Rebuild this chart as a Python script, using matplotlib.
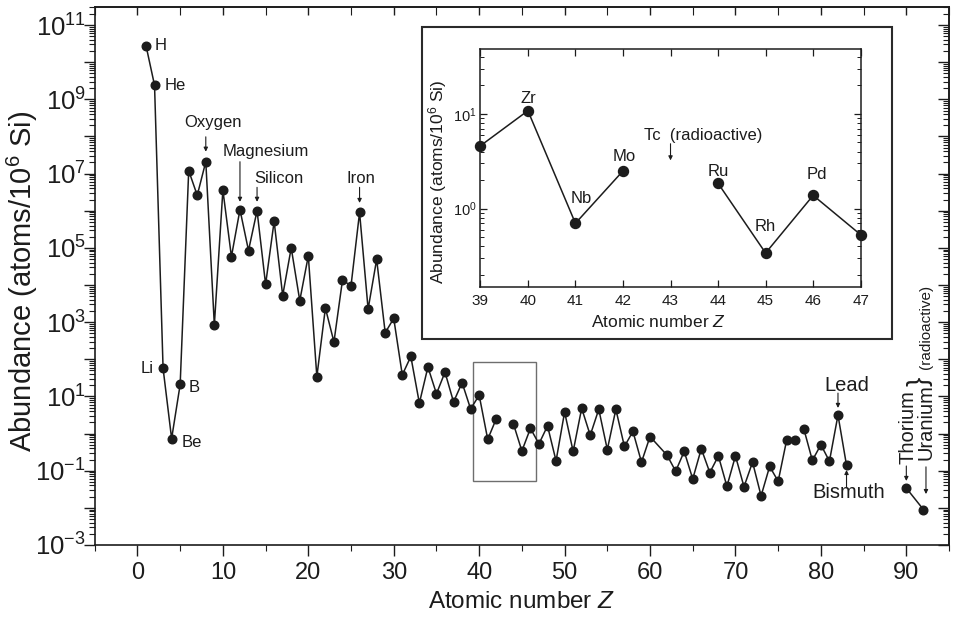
import numpy as np
import matplotlib
matplotlib.use("Agg")
import matplotlib.pyplot as plt
from matplotlib.patches import Rectangle
from matplotlib.ticker import LogLocator, NullFormatter, FixedLocator

plt.rcParams["font.family"] = ["Liberation Sans", "DejaVu Sans"]
plt.rcParams["mathtext.fontset"] = "custom"
plt.rcParams["mathtext.rm"] = "Liberation Sans"
plt.rcParams["mathtext.it"] = "Liberation Sans:italic"
plt.rcParams["mathtext.default"] = "regular"

INK = "#1c1c1c"

# atomic number Z and solar-system abundance (atoms per 10^6 Si); Tc, Pm, Po-Ac, Pa absent
Z = [1, 2, 3, 4, 5, 6, 7, 8, 9, 10,
     11, 12, 13, 14, 15, 16, 17, 18, 19, 20,
     21, 22, 23, 24, 25, 26, 27, 28, 29, 30,
     31, 32, 33, 34, 35, 36, 37, 38, 39, 40,
     41, 42, 44, 45, 46, 47, 48, 49, 50,
     51, 52, 53, 54, 55, 56, 57, 58, 59, 60,
     62, 63, 64, 65, 66, 67, 68, 69, 70,
     71, 72, 73, 74, 75, 76, 77, 78, 79, 80,
     81, 82, 83, 90, 92]
ABUND = [2.8e10, 2.4e9, 57, 0.73, 21, 1.2e7, 2.6e6, 2.1e7, 840, 3.6e6,
         5.8e4, 1.07e6, 8.5e4, 1.0e6, 1.04e4, 5.2e5, 5.2e3, 1.0e5, 3.8e3, 6.1e4,
         34, 2.4e3, 293, 1.35e4, 9.6e3, 9.0e5, 2.25e3, 4.9e4, 520, 1.26e3,
         38, 119, 6.6, 62, 11.8, 45, 7.1, 23.5, 4.6, 10.8,
         0.70, 2.5, 1.85, 0.34, 1.38, 0.53, 1.61, 0.184, 3.8,
         0.33, 4.8, 0.90, 4.5, 0.37, 4.5, 0.45, 1.14, 0.17, 0.83,
         0.26, 0.097, 0.33, 0.060, 0.39, 0.089, 0.25, 0.038, 0.25,
         0.037, 0.17, 0.021, 0.13, 0.052, 0.68, 0.66, 1.34, 0.19, 0.5,
         0.18, 3.15, 0.14, 0.034, 0.009]
BREAK_AFTER = [42, 77, 83]  # the curve is not joined past these Z
INSET_RANGE = (39, 47)


def segments(zs, vals, breaks):
    zs, vals = np.asarray(zs), np.asarray(vals)
    cuts = [0] + [i + 1 for i, v in enumerate(zs) if v in breaks] + [len(zs)]
    for s, e in zip(cuts[:-1], cuts[1:]):
        if e > s:
            yield zs[s:e], vals[s:e]


fig = plt.figure(figsize=(9.54, 6.26), dpi=100)
ax = fig.add_axes([0.0993, 0.1294, 0.8955, 0.8589])

for zs, vs in segments(Z, ABUND, BREAK_AFTER):
    ax.plot(zs, vs, "-", color=INK, lw=1.1, zorder=2)
ax.plot(Z, ABUND, "o", ms=6.2, color=INK, mec=INK, zorder=3, clip_on=False)

ax.set_yscale("log")
ax.set_xlim(-5, 95)
ax.set_ylim(1e-3, 3e11)

ax.set_xticks(range(0, 91, 10))
ax.set_xticks(range(-5, 96, 10), minor=True)
exps = list(range(-3, 12))
ax.set_yticks([10.0 ** k for k in exps])
ax.set_yticklabels([f"$10^{{{k}}}$" if k % 2 else "" for k in exps])
ax.yaxis.set_minor_locator(LogLocator(base=10, subs=np.arange(2, 10), numticks=40))
ax.yaxis.set_minor_formatter(NullFormatter())
ax.tick_params(which="both", direction="out", top=False, right=False, colors=INK)
ax.tick_params(which="major", length=8, width=1.0)
ax.tick_params(which="minor", length=4.3, width=0.8)
ax.tick_params(axis="x", which="major", pad=4, labelsize=17)
ax.tick_params(axis="y", which="major", pad=-1.5, labelsize=18.5)
for sp in ax.spines.values():
    sp.set_linewidth(1.2)
    sp.set_color(INK)

ax.set_xlabel("Atomic number $\\mathit{Z}$", fontsize=17.5, color=INK, labelpad=5)
ax.set_ylabel("Abundance (atoms/10$^6$ Si)", fontsize=21, color=INK)
ax.yaxis.set_label_coords(-0.064, 0.49)

# inward ticks on the top and right edges
top = ax.secondary_xaxis("top")
top.xaxis.set_major_locator(FixedLocator(range(0, 91, 10)))
top.xaxis.set_minor_locator(FixedLocator(range(-5, 96, 10)))
top.tick_params(which="both", direction="in", labeltop=False, colors=INK)
top.tick_params(which="major", length=6, width=1.0)
top.tick_params(which="minor", length=6, width=0.8)
right = ax.secondary_yaxis("right")
right.yaxis.set_major_locator(FixedLocator([10.0 ** k for k in exps]))
right.yaxis.set_minor_locator(LogLocator(base=10, subs=np.arange(2, 10), numticks=40))
right.yaxis.set_minor_formatter(NullFormatter())
right.tick_params(which="both", direction="in", labelright=False, colors=INK)
right.tick_params(which="major", length=8, width=1.0)
right.tick_params(which="minor", length=4.3, width=0.8)
for s in (top, right):
    for sp in s.spines.values():
        sp.set_linewidth(1.2)
        sp.set_color(INK)

# element labels next to the points
val = dict(zip(Z, ABUND))
small = dict(fontsize=12, color=INK, textcoords="offset points")
ax.annotate("H", (1, val[1]), xytext=(6.5, 0), ha="left", va="center", **small)
ax.annotate("He", (2, val[2]), xytext=(7, 0), ha="left", va="center", **small)
ax.annotate("Li", (3, val[3]), xytext=(-7, 0), ha="right", va="center", **small)
ax.annotate("B", (5, val[5]), xytext=(6, -2), ha="left", va="center", **small)
ax.annotate("Be", (4, val[4]), xytext=(7, -3), ha="left", va="center", **small)

arrow = dict(arrowstyle="-|>", color=INK, lw=0.8, mutation_scale=6, shrinkA=0, shrinkB=0)


def callout(text, z, txy, a_from, a_to, size=12, va="baseline"):
    ax.text(txy[0], txy[1], text, ha="center", va=va, fontsize=size, color=INK)
    ax.annotate("", xy=(z, a_to), xytext=(z, a_from), arrowprops=arrow)


callout("Oxygen", 8, (8.8, 10 ** 8.245), 10 ** 7.99, 10 ** 7.59)
callout("Magnesium", 12, (15.0, 10 ** 7.47), 10 ** 7.32, 10 ** 6.24)
callout("Silicon", 14, (16.5, 10 ** 6.74), 10 ** 6.63, 10 ** 6.24)
callout("Iron", 26, (26.15, 10 ** 6.74), 10 ** 6.63, 10 ** 6.21)
callout("Lead", 82, (83.0, 10 ** 1.145), 10 ** 1.09, 10 ** 0.69, size=14.5)
callout("Bismuth", 83, (83.3, 10 ** -1.74), 10 ** -1.45, 10 ** -0.98, size=14.5)

# thorium / uranium note
ax.text(90.2, 0.15, "Thorium", rotation=90, ha="center", va="bottom", fontsize=14.5, color=INK)
ax.text(92.35, 0.19, "Uranium", rotation=90, ha="center", va="bottom", fontsize=14.5, color=INK)
ax.text(91.5, 25, "}", rotation=90, ha="center", va="center", fontsize=20, color=INK)
ax.text(92.3, 55, "(radioactive)", rotation=90, ha="center", va="bottom", fontsize=11, color=INK)
ax.annotate("", xy=(90, 0.053), xytext=(90, 0.134), arrowprops=arrow)
ax.annotate("", xy=(92.3, 0.0235), xytext=(92.3, 0.127), arrowprops=arrow)

# region shown enlarged in the inset
ax.add_patch(Rectangle((39.25, 0.052), 46.6 - 39.25, 85 - 0.052, fill=False,
                       ec="#6e6e6e", lw=1.0, zorder=1))

# inset frame
frame = Rectangle((0.442, 0.458), 0.4927, 0.4984, transform=fig.transFigure,
                  fc="white", ec="#2a2a2a", lw=1.5, zorder=1)
fig.add_artist(frame)

axin = fig.add_axes([0.5035, 0.542, 0.3987, 0.3792], zorder=2)
sel = [(z, v) for z, v in zip(Z, ABUND) if INSET_RANGE[0] <= z <= INSET_RANGE[1]]
z_in = [p[0] for p in sel]
a_in = [p[1] for p in sel]
for zs, vs in segments(z_in, a_in, BREAK_AFTER):
    axin.plot(zs, vs, "-", color=INK, lw=1.1)
axin.plot(z_in, a_in, "o", ms=7.2, color=INK, clip_on=False, zorder=3)
axin.set_yscale("log")
axin.set_xlim(*INSET_RANGE)
axin.set_ylim(0.15, 48)
axin.set_xticks(range(INSET_RANGE[0], INSET_RANGE[1] + 1))
axin.set_yticks([1, 10])
axin.set_yticklabels(["$10^{0}$", "$10^{1}$"])
axin.yaxis.set_minor_locator(LogLocator(base=10, subs=np.arange(2, 10), numticks=20))
axin.yaxis.set_minor_formatter(NullFormatter())
axin.tick_params(which="both", direction="in", top=True, right=True, colors=INK)
axin.tick_params(which="major", length=5, width=0.9)
axin.tick_params(which="minor", length=3, width=0.7)
axin.tick_params(axis="x", labelsize=11, pad=5)
axin.tick_params(axis="y", labelsize=10.5, pad=2.5)
for sp in axin.spines.values():
    sp.set_linewidth(1.1)
    sp.set_color(INK)
axin.set_xlabel("Atomic number $\\mathit{Z}$", fontsize=12.5, color=INK)
axin.xaxis.set_label_coords(0.468, -0.115)
axin.set_ylabel("Abundance (atoms/10$^6$ Si)", fontsize=12.5, color=INK)
axin.yaxis.set_label_coords(-0.082, 0.44)

vin = dict(zip(z_in, a_in))
lab = dict(fontsize=12, color=INK, textcoords="offset points", ha="center", va="baseline")
axin.annotate("Zr", (40, vin[40]), xytext=(0, 5.8), **lab)
axin.annotate("Nb", (41, vin[41]), xytext=(3.9, 14.6), **lab)
axin.annotate("Mo", (42, vin[42]), xytext=(1, 7), **lab)
axin.annotate("Ru", (44, vin[44]), xytext=(0, 5.5), **lab)
axin.annotate("Rh", (45, vin[45]), xytext=(0, 16), **lab)
axin.annotate("Pd", (46, vin[46]), xytext=(3, 11.8), **lab)
axin.text(42.44, 5.36, "Tc  (radioactive)", ha="left", va="baseline", fontsize=12, color=INK)
axin.annotate("", xy=(43, 3.23), xytext=(43, 4.84), arrowprops=arrow)

fig.savefig("out.png", dpi=100)
